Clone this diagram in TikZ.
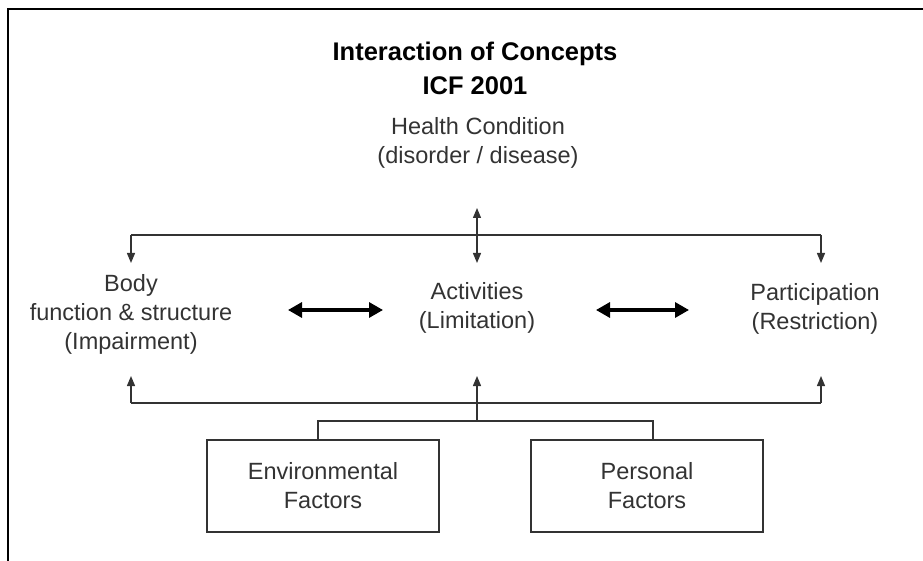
\documentclass[tikz,border=0pt]{standalone}
\usepackage{fontspec}
\setmainfont{Liberation Sans}
\usetikzlibrary{arrows.meta}
\definecolor{txt}{HTML}{333333}
\begin{document}
\begin{tikzpicture}[x=1pt,y=-1pt,
  lbl/.style={align=center,text=txt,font=\fontsize{23.5}{29}\selectfont,inner sep=0pt},
  ttl/.style={align=center,font=\bfseries\fontsize{25.5}{34}\selectfont,inner sep=0pt},
  thin/.style={line width=1.3pt,draw=black!80},
  tip/.style={-{Triangle[width=8pt,length=10pt]}},
  bigarrow/.style={line width=3.2pt,{Triangle[width=15pt,length=14pt]}-{Triangle[width=15pt,length=14pt]}},
  factor/.style={draw=black!80,line width=1.3pt,minimum width=232pt,minimum height=92pt,align=center,text=txt,font=\fontsize{23.5}{29}\selectfont}]
\useasboundingbox (0,0) rectangle (923,561);
\draw[line width=1.3pt] (8,561) -- (8,9) -- (923,9);
\node[ttl] (title) at (475,68) {Interaction of Concepts\\ICF 2001};
\node[lbl] (hc) at (478,143) {Health Condition\\(disorder / disease)};
\node[lbl] (body) at (131,314) {Body\\function \& structure\\(Impairment)};
\node[lbl] (act) at (477,308) {Activities\\(Limitation)};
\node[lbl] (part) at (815,309) {Participation\\(Restriction)};
\node[factor] (env) at (323,486) {Environmental\\Factors};
\node[factor] (pers) at (647,486) {Personal\\Factors};
% top connectors
\coordinate (tl) at (131,235);
\coordinate (tr) at (821,235);
\coordinate (hcb) at (477,208);
\coordinate (actt) at (477,263);
\coordinate (bodyt) at (131,263);
\coordinate (partt) at (821,263);
\draw[thin] (tl) -- (tr);
\draw[thin,tip] (tl) -- (bodyt);
\draw[thin,tip] (tr) -- (partt);
\draw[thin,{Triangle[width=8pt,length=10pt]}-{Triangle[width=8pt,length=10pt]}] (hcb) -- (actt);
% horizontal big arrows
\coordinate (a1) at (288,310);
\coordinate (a2) at (383,310);
\coordinate (a3) at (596,310);
\coordinate (a4) at (689,310);
\draw[bigarrow] (a1) -- (a2);
\draw[bigarrow] (a3) -- (a4);
% bottom connectors
\coordinate (bl) at (131,403);
\coordinate (bc) at (477,403);
\coordinate (br) at (821,403);
\coordinate (bodyb) at (131,376);
\coordinate (actb) at (477,376);
\coordinate (partb) at (821,376);
\draw[thin] (bl) -- (br);
\draw[thin,tip] (bl) -- (bodyb);
\draw[thin,tip] (bc) -- (actb);
\draw[thin,tip] (br) -- (partb);
\coordinate (fc) at (477,421);
\draw[thin] (bc) -- (fc);
\draw[thin] (env.north) ++(-5,0) |- (fc) -| ([xshift=6pt]pers.north);
\end{tikzpicture}
\end{document}
